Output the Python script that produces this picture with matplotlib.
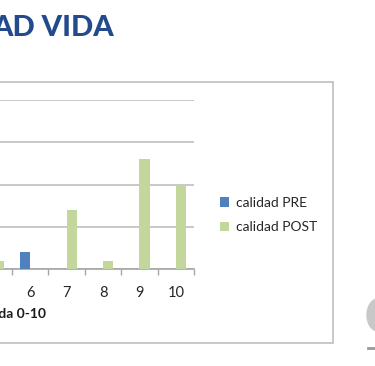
import matplotlib.pyplot as plt
from matplotlib.patches import Rectangle, Ellipse
import numpy as np

plt.rcParams['font.family'] = ['Lato', 'DejaVu Sans']

# puntuacion 0-10, numero de pacientes
categorias = ['0', '1', '2', '3', '4', '5', '6', '7', '8', '9', '10']
calidad_pre = [0, 0, 0, 0, 0, 0, 2, 0, 0, 0, 0]
calidad_post = [0, 0, 0, 0, 0, 1, 0, 7, 1, 13, 10]

W, H = 375, 366
fig = plt.figure(figsize=(W / 100, H / 100), dpi=100)

# marco del grafico (sale por la izquierda)
fig.patches.append(Rectangle((-0.2, 1 - 343 / H), 333 / W + 0.2, (343 - 82) / H,
                             transform=fig.transFigure, fill=False,
                             edgecolor='#bfbfbf', linewidth=1.2))

# eje: 11 categorias, el borde derecho en x=194 px
cat_w = 36.4
left = (194 - 11 * cat_w) / W
ax = fig.add_axes([left, 1 - 269 / H, 11 * cat_w / W, (269 - 100) / H])

x = np.arange(len(categorias))
bw = 1 / 3.5
ax.bar(x - bw / 2, calidad_pre, bw, color='#4f81bd', label='calidad PRE', zorder=3)
ax.bar(x + bw / 2, calidad_post, bw, color='#c3d69b', label='calidad POST', zorder=3)

ax.set_xlim(-0.5, len(categorias) - 0.5)
ax.set_ylim(0, 20)
ax.set_yticks([0, 5, 10, 15, 20])
ax.yaxis.grid(True, color='#bfbfbf', linewidth=1.2, zorder=0)
ax.set_yticklabels([])
ax.tick_params(axis='y', length=0)

ax.set_xticks(np.arange(-0.5, len(categorias), 1))
ax.set_xticklabels([])
ax.set_xticks(x, minor=True)
ax.set_xticklabels(categorias, minor=True, fontsize=10.5, color='#262626')
ax.tick_params(axis='x', which='major', length=4, color='#a6a6a6', width=1)
ax.tick_params(axis='x', which='minor', length=0, pad=12)

for s in ['top', 'right', 'left']:
    ax.spines[s].set_visible(False)
ax.spines['bottom'].set_color('#a6a6a6')
ax.spines['bottom'].set_linewidth(1.2)
ax.set_facecolor('none')

fig.text(46 / W, 1 - 314 / H, 'Calidad de vida 0-10', ha='right', va='center',
         fontsize=10, fontweight='bold', color='#1a1a1a')

fig.legend(loc='center left', bbox_to_anchor=(207 / W, 1 - 215 / H),
           frameon=False, fontsize=10, handlelength=0.7, handleheight=0.7,
           handletextpad=0.5, labelspacing=0.9, labelcolor='#262626')

fig.text(114 / W, 1 - 28 / H, 'AD VIDA', ha='right', va='center',
         fontsize=21, fontweight='black', color='#234a8c')

# logo gris en la esquina
fig.patches.append(Ellipse((378 / W, 1 - 315 / H), 22 / W, 32 / H,
                           transform=fig.transFigure, color='#c8c8c8'))
fig.lines.append(plt.Line2D([368 / W, 1], [1 - 348 / H, 1 - 348 / H],
                            transform=fig.transFigure, color='#9a9a9a', linewidth=2))

fig.savefig('out.png', dpi=100)
